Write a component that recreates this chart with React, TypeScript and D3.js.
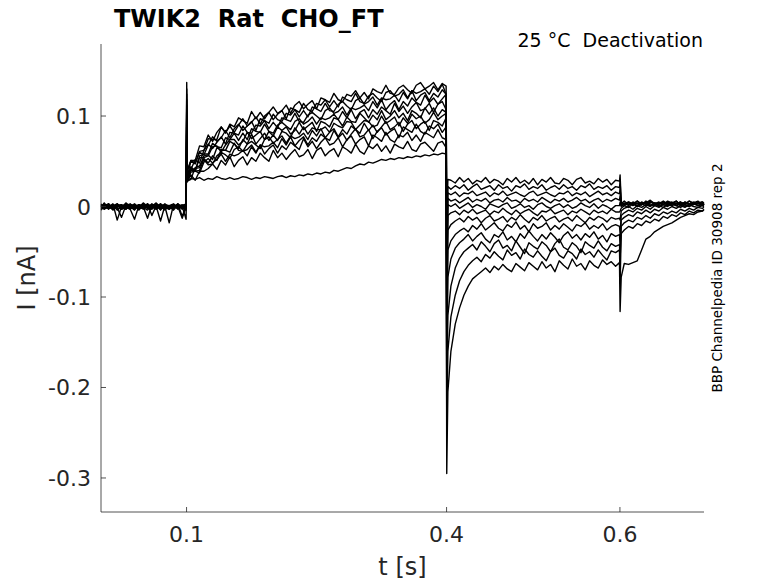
import React from 'react';
import * as d3 from 'd3';

// ---- time grids (s) ----
const preT = [0.0015, 0.005, 0.01, 0.015, 0.02, 0.025, 0.03, 0.035, 0.04, 0.045, 0.05, 0.055, 0.06, 0.065, 0.07, 0.075, 0.08, 0.085, 0.09, 0.095, 0.0995];
const onsetT = 0.1002;
const pulseT = [0.1008, 0.105, 0.11, 0.115, 0.12, 0.125, 0.13, 0.135, 0.14, 0.145, 0.15, 0.155, 0.16, 0.165, 0.17, 0.175, 0.18, 0.185, 0.19, 0.195, 0.2, 0.205, 0.21, 0.215, 0.22, 0.225, 0.23, 0.235, 0.24, 0.245, 0.25, 0.255, 0.26, 0.265, 0.27, 0.275, 0.28, 0.285, 0.29, 0.295, 0.3, 0.305, 0.31, 0.315, 0.32, 0.325, 0.33, 0.335, 0.34, 0.345, 0.35, 0.355, 0.36, 0.365, 0.37, 0.375, 0.38, 0.385, 0.39, 0.395, 0.3995];
const offsetT = 0.4002;
const tailT = [0.4015, 0.405, 0.41, 0.415, 0.42, 0.425, 0.43, 0.435, 0.44, 0.445, 0.45, 0.455, 0.46, 0.465, 0.47, 0.475, 0.48, 0.485, 0.49, 0.495, 0.5, 0.505, 0.51, 0.515, 0.52, 0.525, 0.53, 0.535, 0.54, 0.545, 0.55, 0.555, 0.56, 0.565, 0.57, 0.575, 0.58, 0.585, 0.59, 0.595, 0.5995];
const endT = 0.6002;
const postT = [0.6015, 0.605, 0.61, 0.615, 0.62, 0.625, 0.63, 0.635, 0.64, 0.645, 0.65, 0.655, 0.66, 0.665, 0.67, 0.675, 0.68, 0.685, 0.69, 0.695, 0.697];

// ---- sweep currents (pA), one row per sweep ----
const prePA = [
  [2, -1, 3, -3, 1, -2, 4, 0, -3, 2, -1, 3, -2, 1, -4, 2, 0, -2, 3, -1, 1],
  [-3, 1, -2, 2, -4, 0, 3, -1, 1, -3, 2, -2, 0, 4, -1, -3, 1, -2, 2, 0, -4],
  [1, -3, 0, 2, -1, -12, 1, 3, -2, 0, -3, 2, 1, -2, 3, -1, 0, -4, 2, -1, 0],
  [-1, 2, -3, 1, 3, -2, 0, -1, 2, -4, 1, -2, 3, 0, -16, 1, -1, 2, -3, 1, 2],
  [0, 3, -1, -2, 1, 2, -3, 1, 0, -2, 3, -1, 2, -3, 1, 0, -2, -1, 3, -11, 1],
  [3, -2, 1, -4, 0, 2, -1, -3, -14, 1, 0, 2, -2, 1, -1, 3, -3, 0, 2, -2, -1],
  [-2, 0, 2, -1, 3, -3, 1, -2, 0, 2, -1, -4, 1, 3, -2, 0, -18, 2, -1, 1, 3],
  [1, -2, -1, 3, -15, 0, 2, -3, 1, -1, 4, 0, -2, 1, -3, 2, 1, -1, 0, -13, 0],
  [-4, 1, 3, -2, 0, 1, -3, 2, -1, 0, -2, 3, -10, 1, 2, -1, -3, 1, 0, 2, -2],
  [2, -3, 0, 1, -2, -1, 3, 0, -4, 2, 1, -1, -3, 2, 0, -2, 1, 3, -1, 0, -14],
  [-1, 4, -2, 0, 2, -3, -1, 2, 1, -2, 0, -13, 2, -1, 3, -4, 1, 0, -2, 1, 2],
  [0, -1, 1, -3, 2, 1, -2, 0, 3, -1, -2, 1, 0, -3, 2, 1, -1, -2, 1, -3, 0],
];
const onsetPeakPA = [137, 130, 124, 118, 112, 106, 100, 95, 90, 85, 80, 75];
const pulsePA = [
  [40, 51, 51, 67, 66, 79, 72, 82, 88, 81, 91, 88, 98, 95, 92, 105, 97, 104, 97, 104, 110, 103, 106, 112, 103, 112, 116, 108, 113, 117, 108, 120, 118, 115, 125, 118, 116, 124, 122, 128, 120, 126, 119, 130, 127, 125, 134, 125, 124, 131, 134, 129, 125, 134, 137, 130, 133, 137, 129, 136, 133],
  [39, 50, 47, 61, 62, 75, 74, 74, 88, 82, 89, 82, 90, 97, 89, 93, 99, 91, 100, 104, 96, 102, 106, 97, 109, 107, 104, 114, 107, 105, 114, 112, 118, 110, 117, 110, 121, 118, 116, 125, 116, 114, 122, 125, 120, 116, 126, 128, 122, 124, 129, 120, 128, 125, 127, 130, 124, 133, 127, 135, 124],
  [32, 51, 48, 60, 57, 68, 77, 72, 76, 84, 76, 86, 91, 84, 89, 94, 84, 97, 95, 92, 102, 96, 94, 103, 101, 107, 99, 106, 99, 110, 108, 105, 114, 106, 105, 113, 116, 111, 107, 117, 120, 113, 116, 121, 112, 120, 118, 119, 123, 116, 126, 119, 128, 117, 123, 126, 117, 125, 121, 129, 124],
  [32, 41, 52, 48, 62, 69, 64, 71, 77, 69, 82, 81, 79, 89, 82, 81, 90, 89, 95, 86, 93, 87, 98, 96, 94, 103, 94, 93, 101, 104, 100, 96, 106, 109, 103, 105, 110, 101, 109, 107, 109, 112, 106, 116, 109, 118, 107, 113, 117, 107, 116, 111, 120, 115, 112, 123, 115, 120, 113, 119, 124],
  [34, 44, 39, 56, 58, 58, 70, 66, 65, 76, 74, 81, 73, 81, 74, 86, 83, 82, 91, 83, 81, 90, 93, 89, 85, 94, 97, 91, 94, 99, 91, 98, 96, 98, 102, 96, 105, 98, 107, 97, 104, 107, 98, 107, 102, 110, 106, 102, 114, 105, 111, 103, 110, 115, 106, 108, 114, 104, 113, 116, 107],
  [32, 41, 39, 54, 54, 56, 66, 67, 60, 68, 74, 74, 68, 72, 82, 75, 79, 83, 74, 83, 78, 88, 84, 88, 80, 84, 93, 85, 89, 93, 83, 94, 92, 88, 98, 96, 89, 99, 94, 93, 103, 98, 93, 101, 96, 106, 96, 100, 106, 98, 103, 95, 106, 103, 98, 109, 102, 109, 100, 107, 104],
  [28, 40, 42, 43, 56, 57, 52, 65, 62, 62, 72, 69, 64, 74, 69, 80, 69, 75, 81, 73, 79, 73, 83, 81, 76, 87, 80, 88, 80, 87, 85, 85, 88, 82, 92, 89, 87, 94, 93, 85, 90, 95, 94, 88, 90, 100, 92, 95, 99, 89, 98, 92, 102, 97, 100, 92, 96, 104, 96, 100, 103],
  [28, 30, 43, 45, 53, 48, 56, 51, 63, 62, 60, 70, 62, 61, 69, 72, 68, 64, 74, 77, 70, 74, 78, 70, 78, 75, 77, 81, 74, 84, 78, 86, 76, 82, 86, 77, 85, 80, 89, 85, 81, 92, 84, 90, 82, 88, 94, 85, 88, 93, 83, 91, 95, 86, 91, 94, 84, 95, 93, 89, 98],
  [27, 38, 39, 40, 52, 46, 47, 56, 60, 57, 53, 63, 66, 61, 63, 68, 60, 68, 66, 67, 71, 65, 75, 68, 77, 67, 73, 77, 68, 76, 72, 80, 76, 73, 84, 76, 81, 73, 80, 86, 77, 79, 85, 75, 83, 87, 79, 83, 86, 76, 88, 85, 82, 91, 83, 80, 89, 86, 91, 82, 88],
  [34, 40, 39, 37, 49, 53, 48, 52, 58, 50, 58, 56, 58, 62, 56, 66, 59, 68, 58, 64, 68, 59, 67, 63, 71, 67, 63, 75, 66, 72, 64, 71, 76, 68, 70, 76, 66, 74, 78, 69, 74, 77, 67, 79, 76, 72, 82, 74, 71, 79, 77, 82, 73, 79, 72, 82, 79, 76, 85, 76, 74],
  [28, 35, 29, 39, 39, 42, 47, 41, 51, 46, 55, 44, 51, 55, 46, 54, 50, 59, 54, 50, 62, 54, 59, 52, 58, 63, 55, 57, 63, 53, 62, 65, 56, 61, 64, 55, 66, 63, 59, 69, 61, 58, 67, 64, 69, 61, 67, 59, 69, 66, 64, 72, 63, 61, 69, 71, 66, 61, 70, 72, 65],
  [29, 31, 30, 32, 29, 31, 30, 33, 31, 30, 32, 30, 31, 33, 32, 30, 32, 31, 33, 32, 31, 33, 34, 32, 34, 33, 35, 34, 36, 35, 37, 36, 38, 37, 40, 39, 41, 43, 42, 45, 47, 46, 49, 48, 50, 52, 51, 53, 52, 54, 53, 55, 54, 56, 55, 57, 56, 58, 57, 59, 58],
];
const offsetPeakPA = [-20, -40, -60, -80, -100, -120, -140, -160, -185, -210, -245, -295];
const tailPA = [
  [30, 29, 26, 32, 27, 31, 25, 29, 27, 32, 26, 30, 28, 24, 31, 27, 32, 26, 29, 25, 31, 24, 30, 27, 32, 26, 25, 31, 29, 24, 30, 32, 26, 28, 25, 31, 27, 30, 24, 29, 28],
  [22, 19, 23, 20, 24, 18, 22, 25, 19, 21, 23, 18, 24, 20, 22, 17, 23, 21, 25, 19, 22, 20, 24, 18, 21, 23, 19, 24, 20, 22, 18, 23, 21, 25, 19, 22, 20, 23, 18, 22, 21],
  [15, 13, 16, 11, 15, 14, 17, 12, 14, 16, 11, 15, 13, 17, 12, 14, 16, 13, 11, 15, 17, 12, 14, 16, 13, 11, 15, 14, 17, 12, 15, 13, 16, 11, 14, 17, 13, 15, 12, 16, 14],
  [9, 6, 8, 4, 7, 10, 5, 8, 6, 9, 4, 7, 8, 5, 10, 6, 7, 4, 9, 6, 8, 5, 10, 7, 4, 8, 6, 9, 5, 7, 10, 6, 8, 4, 7, 9, 5, 8, 6, 9, 7],
  [2, 0, 3, -2, 1, 4, -1, 2, 0, -3, 3, 1, -1, 2, 4, -2, 0, 3, -1, 1, -3, 2, 4, 0, -2, 1, 3, -1, 2, -2, 0, 4, 1, -1, 3, -2, 2, 0, -3, 1, 1],
  [-10, -7, -5, -9, -4, -7, -3, -8, -6, -4, -9, -5, -7, -2, -6, -9, -4, -8, -5, -3, -7, -10, -5, -6, -3, -8, -6, -4, -9, -5, -7, -3, -6, -9, -4, -7, -5, -8, -3, -6, -6],
  [-26, -20, -16, -13, -17, -11, -15, -12, -18, -13, -10, -16, -14, -11, -17, -12, -15, -9, -14, -18, -12, -15, -10, -16, -13, -11, -17, -14, -12, -16, -10, -14, -18, -12, -15, -11, -13, -17, -12, -14, -13],
  [-48, -38, -31, -27, -24, -28, -21, -25, -19, -26, -22, -18, -24, -27, -20, -23, -17, -25, -21, -28, -19, -24, -22, -18, -26, -21, -25, -19, -23, -27, -20, -22, -18, -25, -21, -24, -19, -26, -22, -20, -22],
  [-78, -58, -46, -40, -36, -31, -38, -33, -29, -36, -40, -31, -34, -28, -37, -33, -39, -30, -35, -27, -33, -38, -31, -36, -29, -34, -40, -32, -28, -35, -31, -37, -30, -34, -28, -36, -32, -39, -30, -33, -31],
  [-120, -88, -68, -57, -50, -46, -42, -48, -39, -44, -50, -41, -37, -46, -43, -49, -38, -45, -52, -40, -44, -47, -39, -43, -50, -41, -36, -45, -48, -40, -44, -51, -39, -43, -46, -38, -45, -49, -41, -44, -42],
  [-160, -122, -98, -82, -72, -65, -60, -56, -61, -53, -57, -50, -55, -59, -48, -54, -51, -58, -47, -53, -56, -49, -55, -60, -50, -46, -54, -57, -49, -52, -58, -47, -53, -50, -56, -48, -54, -59, -49, -51, -48],
  [-205, -160, -130, -112, -98, -88, -80, -76, -72, -68, -73, -66, -70, -64, -69, -72, -63, -67, -71, -62, -66, -70, -61, -68, -64, -72, -60, -65, -69, -58, -66, -63, -70, -60, -65, -68, -59, -64, -61, -66, -62],
];
const endPeakPA = [35, 28, 20, 12, 5, -5, -15, -30, -45, -60, -85, -116];
const postPA = [
  [4, 2, 5, 3, 6, 2, 4, 7, 3, 5, 2, 6, 4, 3, 5, 2, 6, 4, 3, 5, 4],
  [3, 6, 2, 4, 1, 5, 3, 6, 2, 4, 5, 1, 4, 6, 2, 5, 3, 4, 6, 2, 3],
  [2, 4, 1, 5, 3, 2, 6, 1, 4, 3, 5, 2, 3, 6, 1, 4, 2, 5, 3, 4, 2],
  [5, 1, 4, 2, 6, 3, 1, 5, 4, 2, 6, 3, 5, 1, 4, 3, 6, 2, 4, 5, 3],
  [0, 3, 5, 1, 4, 2, 5, 3, 1, 4, 2, 5, 3, 4, 1, 5, 2, 3, 4, 1, 3],
  [-2, 1, -1, 3, 0, 2, 4, 1, 3, 0, 4, 2, 1, 3, 5, 2, 0, 3, 4, 2, 3],
  [-5, -2, 0, -3, 1, -1, 2, 0, 3, 1, -1, 2, 4, 1, 3, 0, 2, 4, 1, 3, 2],
  [-10, -7, -4, -6, -2, -4, 0, -3, 1, -1, 2, 0, 3, 1, -1, 2, 0, 3, 1, 2, 1],
  [-15, -12, -9, -11, -6, -8, -4, -7, -3, -5, -1, -3, 0, -2, 1, -1, 2, 0, -1, 1, 0],
  [-22, -18, -15, -17, -12, -14, -10, -13, -8, -10, -6, -8, -5, -7, -3, -5, -2, -4, -1, -2, -1],
  [-30, -26, -22, -24, -19, -21, -16, -18, -14, -16, -11, -13, -9, -11, -7, -9, -5, -7, -4, -5, -3],
  [-78, -63, -64, -62, -60, -48, -36, -33, -28, -25, -22, -20, -18, -15, -12, -10, -8, -9, -6, -5, -4],
];

// ---- axes ----
const xTicks = [0.1, 0.4, 0.6];
const xTickLabels = ['0.1', '0.4', '0.6'];
const yTicks = [0.1, 0, -0.1, -0.2, -0.3];
const yTickLabels = ['0.1', '0', '-0.1', '-0.2', '-0.3'];

const titleText = 'TWIK2  Rat  CHO_FT';
const subtitleText = '25 °C  Deactivation';
const sideText = 'BBP Channelpedia ID 30908 rep 2';

export default function App() {
  const left = 101, right = 704, top = 44, bottom = 512;
  const x = d3.scaleLinear().domain([0.0013, 0.697]).range([left, right]);
  const y = d3.scaleLinear().domain([-0.3376, 0.1796]).range([bottom, top]);
  const line = d3
    .line<[number, number]>()
    .defined(d => Number.isFinite(d[1]))
    .x(d => x(d[0]))
    .y(d => y(d[1]));

  const sweeps = prePA.map((_, i) => {
    const pts: [number, number][] = [];
    preT.forEach((t, j) => pts.push([t, prePA[i][j] / 1000]));
    pts.push([onsetT, onsetPeakPA[i] / 1000]);
    pulseT.forEach((t, j) => pts.push([t, pulsePA[i][j] / 1000]));
    pts.push([offsetT, offsetPeakPA[i] / 1000]);
    tailT.forEach((t, j) => pts.push([t, tailPA[i][j] / 1000]));
    pts.push([endT, endPeakPA[i] / 1000]);
    postT.forEach((t, j) => pts.push([t, postPA[i][j] / 1000]));
    return pts;
  });

  const axisColor = '#262626';
  const font = 'DejaVu Sans';

  return (
    <svg width={778} height={583} style={{ position: 'absolute', left: 0, top: 0, background: '#fff' }} fontFamily={font}>
      <rect x={0} y={0} width={778} height={583} fill="#fff" />
      {sweeps.map((pts, i) => (
        <path key={i} d={line(pts) || ''} fill="none" stroke="#000" strokeWidth={1.4} strokeLinejoin="round" />
      ))}
      {/* axes */}
      <line x1={left} y1={top} x2={left} y2={bottom} stroke={axisColor} strokeWidth={0.8} />
      <line x1={left} y1={bottom} x2={right} y2={bottom} stroke={axisColor} strokeWidth={0.8} />
      {xTicks.map((t, i) => (
        <g key={'xt' + i}>
          <line x1={x(t)} y1={bottom} x2={x(t)} y2={bottom - 5} stroke={axisColor} strokeWidth={0.8} />
          <text x={x(t)} y={542} textAnchor="middle" fontSize={22} fill={axisColor}>{xTickLabels[i]}</text>
        </g>
      ))}
      {yTicks.map((v, i) => (
        <g key={'yt' + i}>
          <line x1={left} y1={y(v)} x2={left + 5} y2={y(v)} stroke={axisColor} strokeWidth={0.8} />
          <text x={91} y={y(v) + 8} textAnchor="end" fontSize={22} fill={axisColor}>{yTickLabels[i]}</text>
        </g>
      ))}
      <text x={(left + right) / 2} y={575} textAnchor="middle" fontSize={24} fill={axisColor}>t [s]</text>
      <text transform={`translate(35, ${(top + bottom) / 2}) rotate(-90)`} textAnchor="middle" fontSize={24} fill={axisColor}>I [nA]</text>
      <text x={114} y={27} fontSize={24} fontWeight="bold" fill="#000" style={{ whiteSpace: 'pre' }}>{titleText}</text>
      <text x={703} y={47} textAnchor="end" fontSize={19} fill="#000" style={{ whiteSpace: 'pre' }}>{subtitleText}</text>
      <text transform={`translate(722, ${(top + bottom) / 2}) rotate(-90)`} textAnchor="middle" fontSize={13.5} fill="#000">{sideText}</text>
    </svg>
  );
}
